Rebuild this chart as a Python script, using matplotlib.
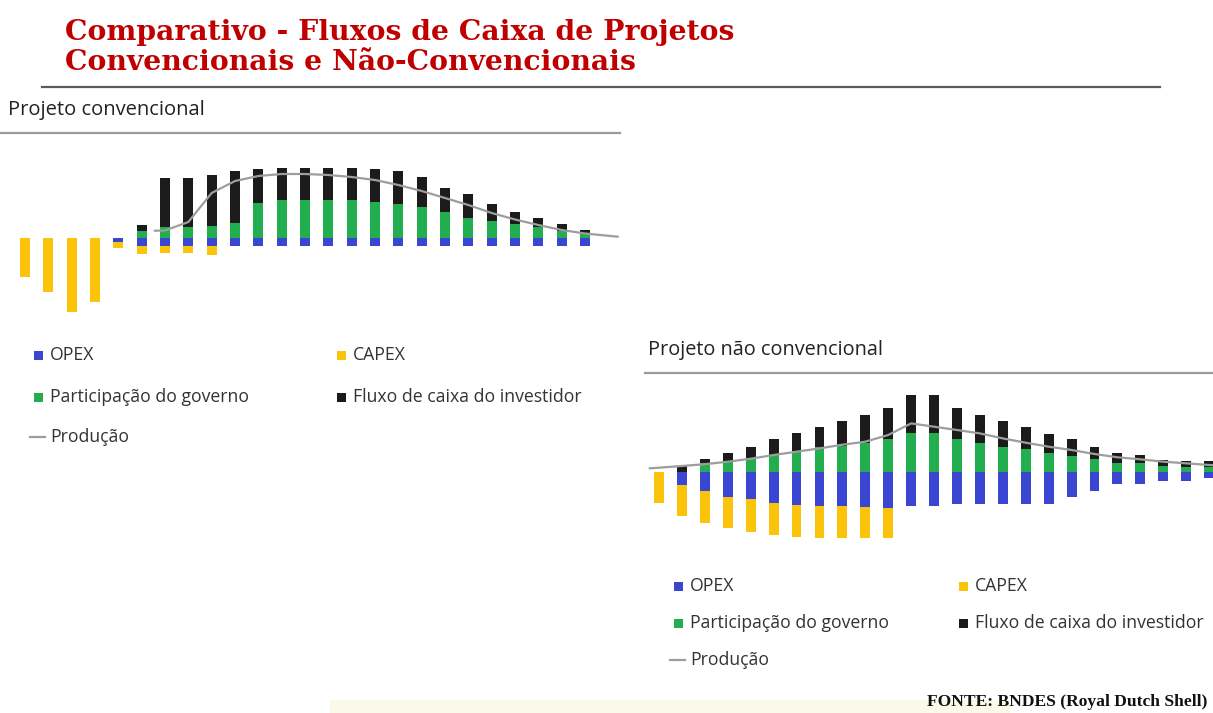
import numpy as np
import matplotlib
matplotlib.use("Agg")
import matplotlib.pyplot as plt
from matplotlib.patches import Rectangle
from matplotlib.lines import Line2D

# cash flow decomposition, arbitrary units
# conventional project (25 periods)
conv_capex = [39, 54, 74, 64, 6, 7.5, 7, 7, 9, 0, 0, 0, 0, 0, 0, 0, 0, 0, 0, 0, 0, 0, 0, 0, 0]
conv_opex = [0, 0, 0, 0, 4, 8, 8, 8, 8, 8, 8, 8, 8, 8, 8, 8, 8, 8, 8, 8, 8, 8, 8, 8, 8]
conv_gov = [0, 0, 0, 0, 0, 7, 10.7, 10.7, 12, 15.3, 34.7, 38, 38, 38, 38, 35.7, 34, 30.7, 26.3,
            19.7, 17, 14, 10.7, 7.3, 4.7]
conv_inv = [0, 0, 0, 0, 0, 6.5, 49.6, 49.6, 51, 52, 34.3, 32.3, 32.3, 32.3, 32.3, 33.3, 33.3, 30,
            24, 24.3, 17, 12.3, 9, 6.7, 3.3]
conv_prod_t = [5.57, 6, 7, 8, 9, 10, 11, 12, 13, 14, 15, 16, 17, 18, 19, 20, 21, 22, 23, 24, 25.4]
conv_prod = [7.3, 7.5, 16, 45, 57, 62, 64, 64, 63, 61, 58, 53, 47, 40, 33, 25, 18.5, 13, 8, 4.5, 1.3]

# unconventional project (25 periods)
unc_capex = [31.7, 30.7, 31.7, 31.7, 32.3, 31.7, 31.7, 32.3, 32.3, 31.7, 30.7, 0, 0, 0, 0, 0, 0, 0,
             0, 0, 0, 0, 0, 0, 0]
unc_opex = [0, 13.3, 19.3, 25, 27.7, 31.7, 33.3, 34.3, 34.3, 35, 36, 34.3, 34, 32.6, 32.6, 32.6,
            32.6, 32.6, 25, 19, 12.6, 12.6, 9.3, 9.3, 6.6]
unc_gov = [0, 0, 8.3, 10, 12.7, 16.7, 21, 25, 25.7, 29, 32.3, 38.3, 38.3, 32.3, 29, 25, 22.3, 19,
           15.7, 12.7, 9, 8.3, 6, 5, 4.3]
unc_inv = [0, 6, 4.3, 9, 12.3, 15.7, 17.3, 19.3, 25, 27.7, 31, 38.3, 38.3, 31, 27.7, 25.7, 22, 18.7,
           16.7, 12.3, 10, 8.3, 5.7, 5.7, 6.3]
unc_prod_t = [-0.4, 0, 1, 2, 3, 4, 5, 6, 7, 8, 9, 10, 11, 12, 13, 14, 15, 16, 17, 18, 19, 20, 21,
              22, 23, 24, 24.3]
unc_prod = [3.4, 4, 5.7, 7.5, 10, 13, 16.7, 20, 23.3, 27, 30, 36.7, 48.3, 45, 41.7, 38.3, 33.3, 29,
            25, 21.7, 17.7, 14.4, 12.4, 10, 8.4, 6.7, 6.3]

labels = ["OPEX", "CAPEX", "Participação do governo", "Fluxo de caixa do investidor", "Produção"]

c_opex = "#3a46d1"
c_capex = "#fcc30b"
c_gov = "#22ad4e"
c_inv = "#1c1a1b"
c_prod = "#9d9d9d"

W, H = 1213, 713
fig = plt.figure(figsize=(W / 100, H / 100), dpi=100)
fig.patch.set_facecolor("white")

sans = "Open Sans"


def fx(x):
    return x / W


def fy(y):
    return 1 - y / H


def draw_bars(ax, capex, opex, gov, inv, prod_t, prod):
    t = np.arange(len(capex))
    opex = np.array(opex)
    capex = np.array(capex)
    gov = np.array(gov)
    w = 0.43
    ax.bar(t, -opex, w, color=c_opex, linewidth=0)
    ax.bar(t, -capex, w, bottom=-opex, color=c_capex, linewidth=0)
    ax.bar(t, gov, w, color=c_gov, linewidth=0)
    ax.bar(t, inv, w, bottom=gov, color=c_inv, linewidth=0)
    ax.plot(prod_t, prod, color=c_prod, lw=1.6, solid_joinstyle="round", zorder=3)
    ax.axis("off")


# top chart: conventional
ax1 = fig.add_axes([fx(10), fy(320), fx(610), 160 / H])
draw_bars(ax1, conv_capex, conv_opex, conv_gov, conv_inv, conv_prod_t, conv_prod)
ax1.set_xlim(-0.643, 25.5)
ax1.set_ylim(-82, 78)

# bottom chart: unconventional
ax2 = fig.add_axes([fx(640), fy(545), fx(573), 160 / H])
draw_bars(ax2, unc_capex, unc_opex, unc_gov, unc_inv, unc_prod_t, unc_prod)
ax2.set_xlim(-0.829, 24.17)
ax2.set_ylim(-73.3, 86.7)

# title
fig.text(fx(65), fy(32), "Comparativo - Fluxos de Caixa de Projetos", color="#c00000",
         fontsize=20.3, fontweight="bold", family="DejaVu Serif", va="center")
fig.text(fx(65), fy(63), "Convencionais e Não-Convencionais", color="#c00000",
         fontsize=20.3, fontweight="bold", family="DejaVu Serif", va="center")
fig.add_artist(Line2D([fx(42), fx(1160)], [fy(87), fy(87)], color="#5a5a5a", lw=1.6))

# subtitles
fig.text(fx(8), fy(110), "Projeto convencional", fontsize=14.5, family=sans, color="#222222",
         va="center")
fig.add_artist(Line2D([fx(0), fx(620)], [fy(133), fy(133)], color="#9a9a9a", lw=1.6))
fig.text(fx(648), fy(350), "Projeto não convencional", fontsize=14.3, family=sans,
         color="#222222", va="center")
fig.add_artist(Line2D([fx(645), fx(1213)], [fy(373), fy(373)], color="#9a9a9a", lw=1.6))


def legend(x0, x1, rows):
    colors = [c_opex, c_capex, c_gov, c_inv]
    spots = [(x0, rows[0]), (x1, rows[0]), (x0, rows[1]), (x1, rows[1])]
    for (x, y), col, lab in zip(spots, colors, labels[:4]):
        fig.add_artist(Rectangle((fx(x - 4.5), fy(y + 4.5)), 9 / W, 9 / H, color=col, lw=0))
        fig.text(fx(x + 12), fy(y), lab, fontsize=12.7, family=sans, color="#333333",
                 va="center")
    fig.add_artist(Line2D([fx(x0 - 8), fx(x0 + 7)], [fy(rows[2]), fy(rows[2])], color=c_prod,
                          lw=1.6))
    fig.text(fx(x0 + 12), fy(rows[2]), labels[4], fontsize=12.7, family=sans, color="#333333",
             va="center")


legend(38, 341, [355, 397, 437])
legend(678, 963, [586, 623, 660])

# footer
fig.add_artist(Rectangle((fx(330), 0), fx(680), 13 / H, color="#fbfaea", lw=0))
fig.text(fx(927), fy(702), "FONTE: BNDES (Royal Dutch Shell)", fontsize=12.6, fontweight="bold",
         family="Liberation Serif", color="#111111", va="center")

fig.savefig("out.png", dpi=100)
